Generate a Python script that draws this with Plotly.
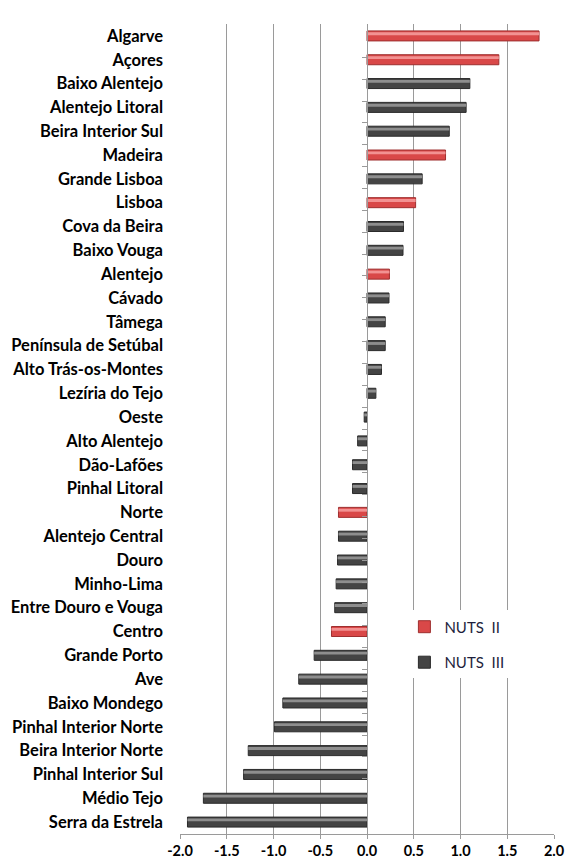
import plotly.graph_objects as go

regions = ["Algarve", "Açores", "Baixo Alentejo", "Alentejo Litoral", "Beira Interior Sul",
           "Madeira", "Grande Lisboa", "Lisboa", "Cova da Beira", "Baixo Vouga", "Alentejo",
           "Cávado", "Tâmega", "Península de Setúbal", "Alto Trás-os-Montes", "Lezíria do Tejo",
           "Oeste", "Alto Alentejo", "Dão-Lafões", "Pinhal Litoral", "Norte", "Alentejo Central",
           "Douro", "Minho-Lima", "Entre Douro e Vouga", "Centro", "Grande Porto", "Ave",
           "Baixo Mondego", "Pinhal Interior Norte", "Beira Interior Norte", "Pinhal Interior Sul",
           "Médio Tejo", "Serra da Estrela"]
values = [1.84, 1.41, 1.10, 1.06, 0.88, 0.84, 0.59, 0.52, 0.39, 0.385, 0.24, 0.235, 0.195,
          0.195, 0.155, 0.095, -0.03, -0.10, -0.155, -0.155, -0.305, -0.305, -0.315, -0.33,
          -0.345, -0.38, -0.565, -0.73, -0.90, -0.99, -1.27, -1.32, -1.75, -1.92]
nuts2 = ["Algarve", "Açores", "Madeira", "Lisboa", "Alentejo", "Norte", "Centro"]
x_ticks = [-2.0, -1.5, -1.0, -0.5, 0.0, 0.5, 1.0, 1.5, 2.0]

groups = {
    "NUTS\u00a0\u00a0II": ("#d94848", "#f29292", "#9e2f2f"),
    "NUTS\u00a0\u00a0III": ("#444444", "#8e8e8e", "#2a2a2a"),
}

fig = go.Figure()
for name, (base, light, edge) in groups.items():
    is2 = name.endswith("\u00a0II")
    ys = [r for r in regions if (r in nuts2) == is2]
    xs = [v for r, v in zip(regions, values) if (r in nuts2) == is2]
    fig.add_trace(go.Bar(y=ys, x=xs, orientation="h", name=name, width=0.42,
                         legendgroup=name,
                         marker=dict(color=base, line=dict(color=edge, width=1))))
    # lighter stripe to mimic the bevelled look
    fig.add_trace(go.Bar(y=ys, x=xs, orientation="h", showlegend=False, width=0.12,
                         offset=-0.15, hoverinfo="skip", legendgroup=name,
                         marker=dict(color=light, line=dict(width=0))))

# invisible trace so the zero-line axis gets the same categories
fig.add_trace(go.Scatter(y=regions, x=[0] * len(regions), yaxis="y2", mode="markers",
                         marker=dict(opacity=0), showlegend=False, hoverinfo="skip"))

fig.update_layout(
    width=566, height=867,
    margin=dict(l=180, r=12, t=24, b=33),
    barmode="overlay",
    plot_bgcolor="white", paper_bgcolor="white",
    font=dict(family="Lato", size=16, color="black"),
    legend=dict(x=0.6, y=0.276, xanchor="left", yanchor="top", bgcolor="white",
                font=dict(size=15, color="#1e1e3c"), tracegroupgap=13,
                traceorder="grouped", itemwidth=30),
    xaxis=dict(range=[-2, 2], tickvals=x_ticks, ticktext=[f"{t:.1f}" for t in x_ticks],
               showgrid=True, gridcolor="#9a9a9a", gridwidth=1, zeroline=False,
               showline=True, linecolor="#9a9a9a", ticks="outside", ticklen=4,
               tickcolor="#9a9a9a", tickfont=dict(size=14.5, weight="bold"),
               ticklabeloverflow="allow", automargin=False),
    yaxis=dict(categoryorder="array", categoryarray=regions, autorange="reversed",
               showgrid=False, zeroline=False, showline=False, ticks="",
               tickfont=dict(size=16.5, weight="bold"), ticklabelstandoff=16,
               automargin=False),
    yaxis2=dict(overlaying="y", anchor="free", position=0.5, showticklabels=False,
                categoryorder="array", categoryarray=regions, autorange="reversed",
                showline=True, linecolor="#9a9a9a", ticks="outside", ticklen=5,
                tickcolor="#9a9a9a", tickson="boundaries", showgrid=False,
                automargin=False),
)

# drop the default page margin so the figure fills the window exactly
fig.write_html("out.html", config={"displayModeBar": False},
               post_script="document.body.style.margin='0';"
                           "document.body.style.overflow='hidden';")
